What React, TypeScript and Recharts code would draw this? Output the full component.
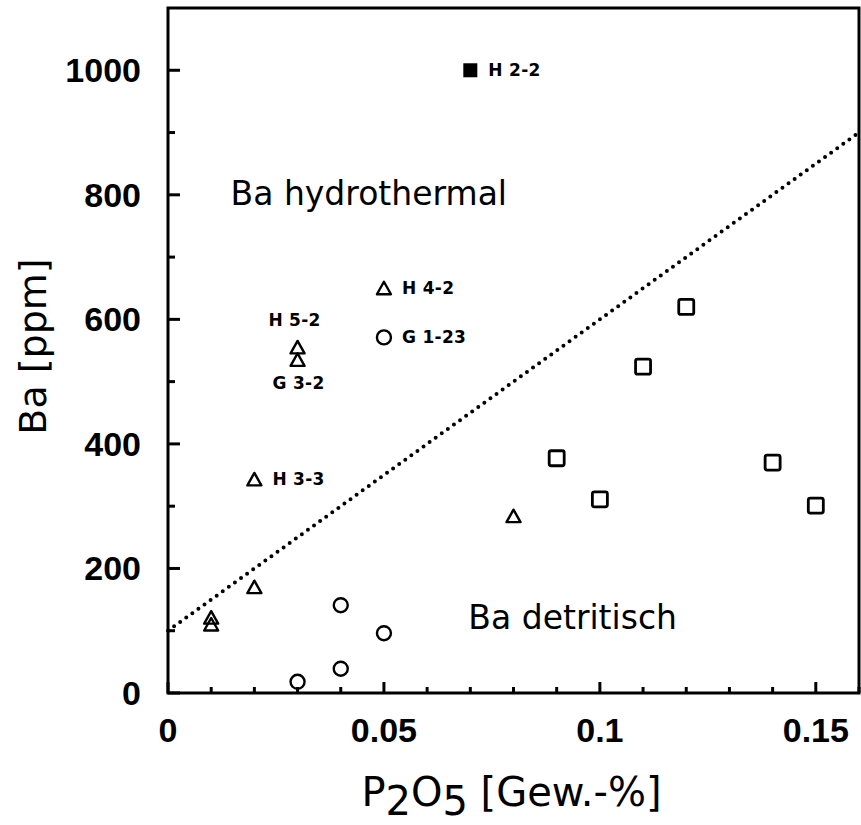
import React from 'react';
import {
  ScatterChart, Scatter, XAxis, YAxis, ReferenceLine, ReferenceArea, ReferenceDot, Label,
} from 'recharts';

// P2O5 [Gew.-%] vs Ba [ppm]
const xTicks = [0, 0.01, 0.02, 0.03, 0.04, 0.05, 0.06, 0.07, 0.08, 0.09, 0.1, 0.11, 0.12, 0.13, 0.14, 0.15, 0.16];
const yTicks = [0, 100, 200, 300, 400, 500, 600, 700, 800, 900, 1000];
const xLabelTicks = [0, 0.05, 0.1, 0.15];
const yLabelTicks = [0, 200, 400, 600, 800, 1000];

const triangles = [
  { x: 0.05, y: 650, name: 'H 4-2' },
  { x: 0.03, y: 555, name: 'H 5-2' },
  { x: 0.03, y: 535, name: 'G 3-2' },
  { x: 0.02, y: 343, name: 'H 3-3' },
  { x: 0.02, y: 170 },
  { x: 0.01, y: 121 },
  { x: 0.01, y: 110 },
  { x: 0.08, y: 284 },
];

const circles = [
  { x: 0.05, y: 571, name: 'G 1-23' },
  { x: 0.04, y: 141 },
  { x: 0.05, y: 96 },
  { x: 0.04, y: 39 },
  { x: 0.03, y: 18 },
];

const squares = [
  { x: 0.09, y: 377 },
  { x: 0.1, y: 311 },
  { x: 0.11, y: 524 },
  { x: 0.12, y: 620 },
  { x: 0.14, y: 370 },
  { x: 0.15, y: 301 },
];

const filledSquares = [{ x: 0.07, y: 1000, name: 'H 2-2' }];

// dotted boundary hydrothermal / detritisch
const boundary = [{ x: 0, y: 100 }, { x: 0.16, y: 900 }];

const regionLabels = [
  { x: 0.0465, y: 802, text: 'Ba hydrothermal' },
  { x: 0.0937, y: 122, text: 'Ba detritisch' },
];

const labelPlacement: Record<string, 'right' | 'above' | 'below'> = {
  'H 2-2': 'right',
  'H 4-2': 'right',
  'G 1-23': 'right',
  'H 3-3': 'right',
  'H 5-2': 'above',
  'G 3-2': 'below',
};

// inward tick marks, drawn as marks sitting on the axes
const yTickMarks = yTicks.map((v) => ({ x: 0, y: v }));
const xTickMarks = xTicks.map((v) => ({ x: v, y: 0 }));

const FONT = '"DejaVu Sans", sans-serif';
const TICK_FONT = '"Liberation Sans", Arial, sans-serif';

const PointLabel = ({ cx, cy, name }: any) => {
  if (!name) return null;
  const place = labelPlacement[name] || 'right';
  const common = { fontFamily: FONT, fontWeight: 700, fontSize: 17, fill: '#000', letterSpacing: 0.3 };
  if (place === 'above') {
    return <text x={cx - 3} y={cy - 27} textAnchor="middle" dominantBaseline="central" {...common}>{name}</text>;
  }
  if (place === 'below') {
    return <text x={cx + 1} y={cy + 23} textAnchor="middle" dominantBaseline="central" {...common}>{name}</text>;
  }
  return <text x={cx + 18} y={cy} textAnchor="start" dominantBaseline="central" {...common}>{name}</text>;
};

const TriangleShape = (props: any) => {
  const { cx, cy, payload } = props;
  return (
    <g>
      <path d={`M${cx},${cy - 6.5} L${cx + 7},${cy + 6} L${cx - 7},${cy + 6} Z`} fill="none" stroke="#000" strokeWidth={2.4} strokeLinejoin="round" />
      <PointLabel cx={cx} cy={cy} name={payload?.name} />
    </g>
  );
};

const CircleShape = (props: any) => {
  const { cx, cy, payload } = props;
  return (
    <g>
      <circle cx={cx} cy={cy} r={7} fill="none" stroke="#000" strokeWidth={2.4} />
      <PointLabel cx={cx} cy={cy} name={payload?.name} />
    </g>
  );
};

const SquareShape = (props: any) => {
  const { cx, cy } = props;
  return <rect x={cx - 7.5} y={cy - 7.5} width={15} height={15} rx={2} fill="none" stroke="#000" strokeWidth={2.8} />;
};

const FilledSquareShape = (props: any) => {
  const { cx, cy, payload } = props;
  return (
    <g>
      <rect x={cx - 7} y={cy - 7} width={14} height={14} fill="#000" />
      <PointLabel cx={cx} cy={cy} name={payload?.name} />
    </g>
  );
};

const YTickMark = ({ cx, cy, payload }: any) => {
  const major = payload.y % 200 === 0;
  return <path d={`M${cx},${cy} h${major ? 12 : 7}`} stroke="#000" strokeWidth={3} fill="none" />;
};

const XTickMark = ({ cx, cy, payload }: any) => {
  const major = Math.round(payload.x * 100) % 5 === 0;
  return <path d={`M${cx},${cy} v${major ? -11 : -6}`} stroke="#000" strokeWidth={3} fill="none" />;
};

const YTick = ({ x, y, payload }: any) => (
  <text x={Number(x) - 27} y={Number(y)} textAnchor="end" dominantBaseline="central"
    fontFamily={TICK_FONT} fontWeight={700} fontSize={34} fill="#000">
    {payload.value}
  </text>
);

const XTick = ({ x, y, payload }: any) => (
  <text x={Number(x)} y={Number(y) + 37} textAnchor="middle" dominantBaseline="central"
    fontFamily={TICK_FONT} fontWeight={700} fontSize={34} fill="#000">
    {String(payload.value)}
  </text>
);

const XTitle = ({ viewBox }: any) => {
  const vb = viewBox || { x: 168, y: 693, width: 691, height: 132 };
  const cx = vb.x + vb.width / 2 - 2;
  return (
    <text x={cx} y={vb.y + 113} textAnchor="middle" fontFamily={FONT} fontSize={40} fill="#000">
      P<tspan dy={9}>2</tspan><tspan dy={-9}>O</tspan><tspan dy={9}>5</tspan><tspan dy={-9}> [Gew.-%]</tspan>
    </text>
  );
};

const YTitle = ({ viewBox }: any) => {
  const vb = viewBox || { x: 0, y: 8, width: 168, height: 685 };
  const cy = vb.y + vb.height / 2 - 4;
  const cx = 33;
  return (
    <text x={cx} y={cy} transform={`rotate(-90 ${cx} ${cy})`} textAnchor="middle" dominantBaseline="central"
      fontFamily={FONT} fontSize={38} fill="#000">
      Ba [ppm]
    </text>
  );
};

export default function App() {
  return (
    <div style={{ position: 'absolute', left: 0, top: 0, width: 861, height: 825, background: '#fff' }}>
      <ScatterChart width={861} height={825} margin={{ top: 8, right: 2, bottom: 0, left: 0 }}>
        <XAxis type="number" dataKey="x" domain={[0, 0.16]} ticks={xLabelTicks} interval={0}
          height={132} tickSize={0} tickMargin={0} tickLine={false} axisLine={false} tick={<XTick />}>
          <Label content={<XTitle />} />
        </XAxis>
        <YAxis type="number" dataKey="y" domain={[0, 1100]} ticks={yLabelTicks} interval={0}
          width={168} tickSize={0} tickMargin={0} tickLine={false} axisLine={false} tick={<YTick />}>
          <Label content={<YTitle />} />
        </YAxis>
        <ReferenceArea x1={0} x2={0.16} y1={0} y2={1100} fill="none" stroke="#000" strokeWidth={3} />
        <ReferenceLine segment={boundary} stroke="#000" strokeWidth={4} strokeDasharray="0 7.5" strokeLinecap="round" />
        {regionLabels.map((r) => (
          <ReferenceDot key={r.text} x={r.x} y={r.y} r={0} fill="none" stroke="none"
            label={{ value: r.text, position: 'center', fontSize: 33, fill: '#000', fontFamily: FONT }} />
        ))}
        <Scatter data={yTickMarks} shape={<YTickMark />} isAnimationActive={false} />
        <Scatter data={xTickMarks} shape={<XTickMark />} isAnimationActive={false} />
        <Scatter data={triangles} shape={<TriangleShape />} isAnimationActive={false} />
        <Scatter data={circles} shape={<CircleShape />} isAnimationActive={false} />
        <Scatter data={squares} shape={<SquareShape />} isAnimationActive={false} />
        <Scatter data={filledSquares} shape={<FilledSquareShape />} isAnimationActive={false} />
      </ScatterChart>
    </div>
  );
}
